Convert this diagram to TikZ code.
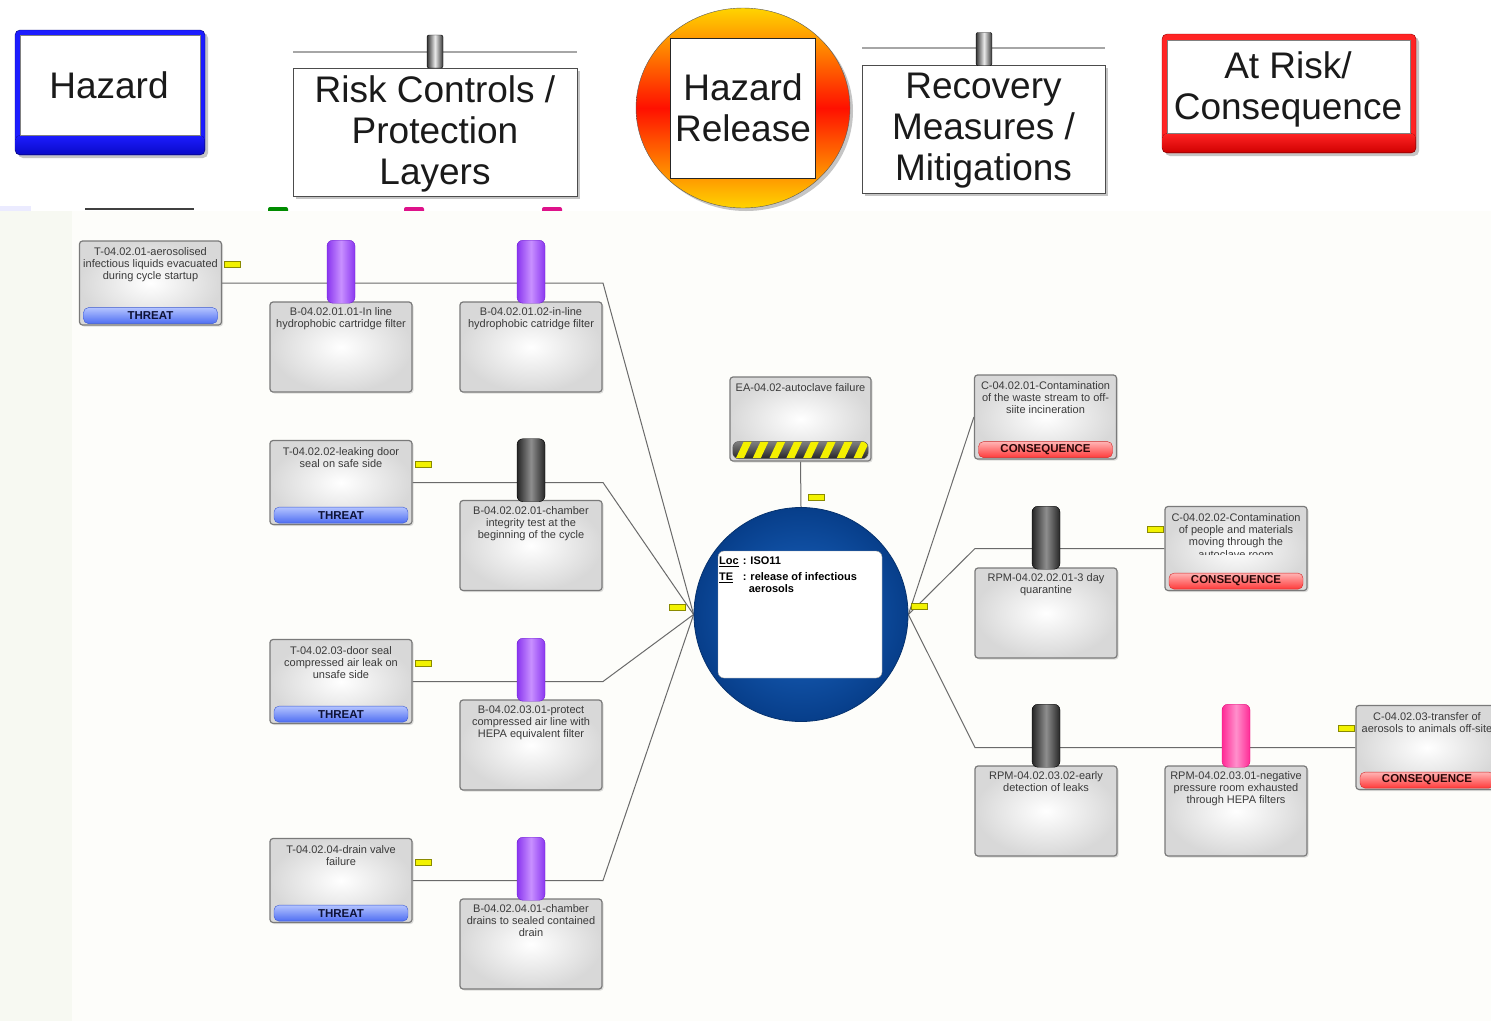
\documentclass[tikz,border=0pt]{standalone}
\usepackage{fontspec}
\setmainfont{Liberation Sans}
\usetikzlibrary{shadows,shapes.geometric}

\definecolor{bglow}{HTML}{FDFDFA}
\definecolor{bgleft}{HTML}{F7F9F2}
\definecolor{wiregray}{HTML}{6A6A6A}
\definecolor{boxgray}{HTML}{7A7A7A}
\definecolor{boxouter}{HTML}{D8D8D8}
\definecolor{txtgray}{HTML}{3A3A3A}
\definecolor{threattop}{HTML}{B4C4FF}
\definecolor{threatbot}{HTML}{4F6EF2}
\definecolor{threatedge}{HTML}{3A58D0}
\definecolor{threattext}{HTML}{0E1238}
\definecolor{constop}{HTML}{FFB4B4}
\definecolor{consbot}{HTML}{FF3A3A}
\definecolor{consedge}{HTML}{D02828}
\definecolor{constext}{HTML}{2A0808}
\definecolor{cylpedge}{HTML}{8A36F0}
\definecolor{cylpmid}{HTML}{C890FF}
\definecolor{cylpborder}{HTML}{7020D0}
\definecolor{cyldedge}{HTML}{262626}
\definecolor{cyldmid}{HTML}{8E8E8E}
\definecolor{cylkedge}{HTML}{FF2A95}
\definecolor{cylkmid}{HTML}{FF90CC}
\definecolor{cylkborder}{HTML}{E0107A}
\definecolor{markyellow}{HTML}{F2F200}
\definecolor{markedge}{HTML}{8A8A00}
\definecolor{teinner}{HTML}{1C68C6}
\definecolor{teouter}{HTML}{073E8A}
\definecolor{hazblue}{HTML}{1C1CFF}
\definecolor{hazbluedark}{HTML}{0A0AC8}
\definecolor{arred}{HTML}{FF2424}
\definecolor{arreddark}{HTML}{D00000}
\definecolor{relyellow}{HTML}{FFD400}
\definecolor{relred}{HTML}{FF1000}
\definecolor{legtxt}{HTML}{1A1A1A}
\definecolor{hazstripe}{HTML}{F4F000}

\pgfdeclarelayer{back}
\pgfdeclarelayer{wires}
\pgfsetlayers{back,wires,main}

\tikzset{
  wire/.style={draw=wiregray, line width=1pt},
  boxnode/.style={draw=boxgray, line width=1.2pt, rounded corners=3pt, inner sep=0pt,
    inner color=white, outer color=boxouter,
    drop shadow={shadow xshift=1.5pt, shadow yshift=-1.5pt, opacity=0.25}},
  btext/.style={font=\fontsize{11}{12}\selectfont, text=txtgray, align=center, inner sep=0pt},
  threatband/.style={draw=threatedge, rounded corners=5pt, minimum width=134pt, minimum height=16pt,
    inner sep=0pt, top color=threattop, bottom color=threatbot,
    font=\fontsize{11.5}{12}\selectfont\bfseries, text=threattext},
  consband/.style={draw=consedge, rounded corners=5pt, minimum width=134pt, minimum height=16pt,
    inner sep=0pt, top color=constop, bottom color=consbot,
    font=\fontsize{11.5}{12}\selectfont\bfseries, text=constext},
  cylpurple/.style={rounded corners=6pt, minimum width=28pt, minimum height=63pt, inner sep=0pt,
    draw=cylpborder, left color=cylpedge, right color=cylpedge, middle color=cylpmid},
  cyldark/.style={rounded corners=6pt, minimum width=28pt, minimum height=63pt, inner sep=0pt,
    draw=black, left color=cyldedge, right color=cyldedge, middle color=cyldmid},
  cylpink/.style={rounded corners=6pt, minimum width=28pt, minimum height=63pt, inner sep=0pt,
    draw=cylkborder, left color=cylkedge, right color=cylkedge, middle color=cylkmid},
  smallcyl/.style={rounded corners=2pt, minimum width=16pt, minimum height=33pt, inner sep=0pt,
    draw=black, left color=black!80, right color=black!80, middle color=black!8},
  marker/.style={draw=markedge, fill=markyellow, line width=0.6pt, minimum width=16pt,
    minimum height=6pt, inner sep=0pt},
  legtext/.style={font=\fontsize{37}{41}\selectfont, text=legtxt, align=center, inner sep=0pt},
  legbox/.style={draw=black!70, fill=white, line width=1pt, inner sep=0pt,
    drop shadow={shadow xshift=3pt, shadow yshift=-3pt, fill=black!45, opacity=0.5}},
  legline/.style={draw=black!35, line width=1.5pt},
}

% threat box: name, x, y, text
\newcommand{\mkThreat}[4]{%
  \node[boxnode, minimum width=142pt, minimum height=84pt] (#1) at (#2,#3) {};
  \node[btext, anchor=north] (#1-txt) at ([yshift=-7pt]#1.north) {#4};
  \node[threatband] (#1-tag) at ([yshift=10pt]#1.south) {THREAT};
}
% barrier box with its cylinder: name, x, y, cylinder style, text
\newcommand{\mkBarrier}[5]{%
  \node[boxnode, minimum width=142pt, minimum height=90pt] (#1) at (#2,#3) {};
  \node[btext, anchor=north] (#1-txt) at ([yshift=-6pt]#1.north) {#5};
  \node[#4, anchor=south] (#1-cyl) at ([yshift=-2pt]#1.north) {};
}
% consequence box: name, x, y, text
\newcommand{\mkCons}[4]{%
  \node[boxnode, minimum width=142pt, minimum height=84pt] (#1) at (#2,#3) {};
  \node[btext, anchor=north] (#1-txt) at ([yshift=-7pt]#1.north) {#4};
  \node[consband] (#1-tag) at ([yshift=10pt]#1.south) {CONSEQUENCE};
}

\begin{document}
\begin{tikzpicture}[x=1pt, y=-1pt]
\useasboundingbox (0,0) rectangle (1491,1021);

% ---------- backgrounds ----------
\begin{pgfonlayer}{back}
  \fill[white] (0,0) rectangle (1491,1021);
  \fill[blue!8] (0,206) rectangle (31,211);
  \draw[black!75, line width=2pt] (85,208.5) -- (194,208.5);
  \fill[green!55!black, rounded corners=2pt] (268,207) rectangle (288,216);
  \fill[magenta!85!violet, rounded corners=2pt] (404,207) rectangle (424,216);
  \fill[magenta!85!violet, rounded corners=2pt] (542,207) rectangle (562,216);
  \fill[bglow] (0,211) rectangle (1491,1021);
  \fill[bgleft] (0,211) rectangle (72,1021);
\end{pgfonlayer}

% ---------- legend ----------
% Hazard
\node[draw=hazbluedark!60!black, fill=hazblue, rounded corners=5pt, minimum width=190pt,
  minimum height=125pt, inner sep=0pt,
  drop shadow={shadow xshift=3pt, shadow yshift=-3pt, fill=black!45, opacity=0.5}] (lg-hz) at (110,92.5) {};
\fill[top color=hazblue, bottom color=hazbluedark, rounded corners=5pt]
  ([xshift=0.5pt,yshift=0.5pt]lg-hz.south west) rectangle ([xshift=-0.5pt,yshift=20pt]lg-hz.north east |- lg-hz.south);
\node[draw=black!50, fill=white, minimum width=180pt, minimum height=100pt, inner sep=0pt] (lg-hz-in) at (110,85) {};
\node[legtext] (lg-hz-t) at (109,85) {Hazard};

% Risk controls / protection layers
\draw[legline] (293,52) -- (577,52);
\node[legbox, minimum width=284pt, minimum height=128pt] (lg-rc) at (435,132) {};
\node[legtext] (lg-rc-t) at (435,134) {Risk Controls /\\Protection\\Layers};
\node[smallcyl] (lg-rc-c) at (435,51.5) {};

% Hazard release
\node[ellipse, minimum width=214pt, minimum height=200pt, inner sep=0pt, draw=black!65,
  top color=relyellow, bottom color=relyellow, middle color=relred,
  drop shadow={shadow xshift=3pt, shadow yshift=-3pt, fill=black!45, opacity=0.5}] (lg-rel) at (743,108) {};
\node[draw=black!85, fill=white, minimum width=145pt, minimum height=140pt, inner sep=0pt] (lg-rel-in) at (742.5,108) {};
\node[legtext] (lg-rel-t) at (743,107.5) {Hazard\\Release};

% Recovery measures / mitigations
\draw[legline] (862,48) -- (1105,48);
\node[legbox, minimum width=243pt, minimum height=128pt] (lg-rm) at (983.5,129) {};
\node[legtext] (lg-rm-t) at (983.5,131) {Recovery\\Measures /\\Mitigations};
\node[smallcyl] (lg-rm-c) at (984,49) {};

% At risk / consequence
\node[draw=arreddark!70!black, fill=arred, rounded corners=5pt, minimum width=254pt,
  minimum height=119pt, inner sep=0pt,
  drop shadow={shadow xshift=3pt, shadow yshift=-3pt, fill=black!45, opacity=0.5}] (lg-ar) at (1289,93.5) {};
\fill[top color=arred, bottom color=arreddark, rounded corners=5pt]
  ([xshift=0.5pt,yshift=0.5pt]lg-ar.south west) rectangle ([xshift=-0.5pt,yshift=20pt]lg-ar.north east |- lg-ar.south);
\node[draw=black!50, fill=white, minimum width=243pt, minimum height=93pt, inner sep=0pt] (lg-ar-in) at (1288.5,86.5) {};
\node[legtext] (lg-ar-t) at (1288,89) {At Risk/\\Consequence};

% ---------- threats (left) ----------
\mkThreat{t1}{150.5}{283}{T-04.02.01-aerosolised\\infectious liquids evacuated\\during cycle startup}
\mkThreat{t2}{341}{482.5}{T-04.02.02-leaking door\\seal on safe side}
\mkThreat{t3}{341}{681.5}{T-04.02.03-door seal\\compressed air leak on\\unsafe side}
\mkThreat{t4}{341}{880.5}{T-04.02.04-drain valve\\failure}

% ---------- barriers ----------
\mkBarrier{b11}{341}{347}{cylpurple}{B-04.02.01.01-In line\\hydrophobic cartridge filter}
\mkBarrier{b12}{531}{347}{cylpurple}{B-04.02.01.02-in-line\\hydrophobic catridge filter}
\mkBarrier{b21}{531}{545.5}{cyldark}{B-04.02.02.01-chamber\\integrity test at the\\beginning of the cycle}
\mkBarrier{b31}{531}{745}{cylpurple}{B-04.02.03.01-protect\\compressed air line with\\HEPA equivalent filter}
\mkBarrier{b41}{531}{944}{cylpurple}{B-04.02.04.01-chamber\\drains to sealed contained\\drain}

% ---------- top event ----------
\node[circle, minimum size=214pt, inner sep=0pt, draw=teouter!80!black, line width=0.8pt,
  inner color=teinner, outer color=teouter] (te) at (801,614.5) {};
\node[draw=black!40, fill=white, rounded corners=6pt, minimum width=164pt, minimum height=127pt,
  inner sep=0pt] (te-in) at (800,614.5) {};
\node[anchor=north west, inner sep=0pt, font=\fontsize{11}{13}\selectfont\bfseries, text=black] (te-txt) at (719,555)
  {\begin{tabular}{@{}l@{\hspace{4pt}}l@{}}\underline{Loc} & : ISO11\\[3pt]
   \underline{TE} & : release of infectious\\[-1pt] & \hspace{0.55em}aerosols\end{tabular}};

% ---------- escalation factor ----------
\node[boxnode, minimum width=141pt, minimum height=84pt] (ea) at (800.5,419) {};
\node[btext, anchor=north] (ea-txt) at ([yshift=-7pt]ea.north) {EA-04.02-autoclave failure};
\node[rounded corners=6pt, minimum width=135pt, minimum height=17pt, inner sep=0pt,
  top color=black!50, bottom color=black!85] (ea-tag) at ([yshift=11.5pt]ea.south) {};
\begin{scope}
  \clip[rounded corners=6pt] (ea-tag.south west) rectangle (ea-tag.north east);
  \foreach \i in {0,...,8}
    \fill[hazstripe] ({736+\i*16.8},458) -- ++(8,0) -- ++(8,-17) -- ++(-8,0) -- cycle;
\end{scope}
\draw[black!70, rounded corners=6pt] (ea-tag.south west) rectangle (ea-tag.north east);

% ---------- consequences ----------
\mkCons{c1}{1045.5}{417}{C-04.02.01-Contamination\\of the waste stream to off-\\siite incineration}
\mkCons{c2}{1236}{548.5}{C-04.02.02-Contamination\\of people and materials\\moving through the}
\begin{scope}
  \clip (1167,540) rectangle (1305,554);
  \node[btext, anchor=base] (c2-more) at (1236,558.5) {autoclave room};
\end{scope}
\mkCons{c3}{1427}{747.5}{C-04.02.03-transfer of\\aerosols to animals off-site}

% ---------- recovery measures ----------
\mkBarrier{r21}{1046}{613}{cyldark}{RPM-04.02.02.01-3 day\\quarantine}
\mkBarrier{r32}{1046}{811}{cyldark}{RPM-04.02.03.02-early\\detection of leaks}
\mkBarrier{r31}{1236}{811}{cylpink}{RPM-04.02.03.01-negative\\pressure room exhausted\\through HEPA filters}

% ---------- markers ----------
\node[marker] (m-t1) at (232.5,264) {};
\node[marker] (m-t2) at (423,464) {};
\node[marker] (m-t3) at (423,663) {};
\node[marker] (m-t4) at (423,862) {};
\node[marker] (m-tl) at (677,607) {};
\node[marker] (m-ea) at (816,497) {};
\node[marker] (m-tr) at (919,606) {};
\node[marker] (m-c2) at (1155,529) {};
\node[marker] (m-c3) at (1346.5,728) {};

% ---------- connectors ----------
\coordinate (j1) at (603,283);
\coordinate (j2) at (603,482.5);
\coordinate (j3) at (603,681.5);
\coordinate (j4) at (603,880.5);
\coordinate (k2) at (975,548.5);
\coordinate (k3) at (975,747.5);
\begin{pgfonlayer}{wires}
  \draw[wire] (t1.east) -- (j1) -- (te.west);
  \draw[wire] (t2.east) -- (j2) -- (te.west);
  \draw[wire] (t3.east) -- (j3) -- (te.west);
  \draw[wire] (t4.east) -- (j4) -- (te.west);
  \draw[wire] (ea.south) -- (te.north);
  \draw[wire] (te.east) -- (c1.west);
  \draw[wire] (te.east) -- (k2) -- (c2.west);
  \draw[wire] (te.east) -- (k3) -- (c3.west);
\end{pgfonlayer}
\end{tikzpicture}
\end{document}
